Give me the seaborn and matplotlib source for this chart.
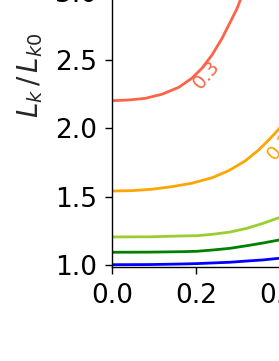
import numpy as np
import pandas as pd
import matplotlib
matplotlib.use('Agg')
import matplotlib.pyplot as plt
import seaborn as sns

# values
x_red = [0.0, 0.040, 0.079, 0.119, 0.159, 0.190, 0.214, 0.238, 0.262, 0.282, 0.298, 0.3055, 0.32]
y_red = [2.202, 2.207, 2.219, 2.249, 2.300, 2.366, 2.439, 2.536, 2.658, 2.780, 2.878, 2.939, 3.08]

x_orange = [0.0, 0.048, 0.095, 0.143, 0.190, 0.238, 0.278, 0.317, 0.349, 0.373, 0.397, 0.42]
y_orange = [1.541, 1.544, 1.554, 1.573, 1.598, 1.638, 1.690, 1.761, 1.841, 1.914, 1.993, 2.10]

x_low = [0.0, 0.09, 0.162, 0.202, 0.241, 0.281, 0.321, 0.36, 0.398, 0.42]
y_yellowgreen = [1.205, 1.206, 1.212, 1.214, 1.225, 1.241, 1.268, 1.305, 1.346, 1.375]
y_green = [1.093, 1.094, 1.097, 1.100, 1.110, 1.122, 1.141, 1.161, 1.183, 1.198]
y_blue = [1.002, 1.003, 1.007, 1.010, 1.015, 1.020, 1.029, 1.037, 1.049, 1.057]

curve_names = ['red', 'orange', 'yellowgreen', 'green', 'blue']
curve_colors = ['tomato', 'orange', 'yellowgreen', 'green', 'blue']

label_text = ['0.3', '0.2']
label_x = [0.226, 0.401]
label_y = [2.39, 1.876]
label_rot = [50, 50]

frames = [
    pd.DataFrame({'x': x_red, 'y': y_red, 'curve': 'red'}),
    pd.DataFrame({'x': x_orange, 'y': y_orange, 'curve': 'orange'}),
    pd.DataFrame({'x': x_low, 'y': y_yellowgreen, 'curve': 'yellowgreen'}),
    pd.DataFrame({'x': x_low, 'y': y_green, 'curve': 'green'}),
    pd.DataFrame({'x': x_low, 'y': y_blue, 'curve': 'blue'}),
]
df = pd.concat(frames, ignore_index=True)

sns.set_style('ticks')
plt.rcParams['font.family'] = ['DejaVu Sans']

fig = plt.figure(figsize=(2.79, 3.61), dpi=100)
# the picture is a crop: the axes run past the right and top edges
ax = fig.add_axes([112 / 279, (361 - 267.3) / 361, 420 / 279, 403.5 / 361])

sns.lineplot(data=df, x='x', y='y', hue='curve', hue_order=curve_names,
             palette=dict(zip(curve_names, curve_colors)), linewidth=2,
             legend=False, ax=ax, estimator=None, sort=False)

for t, lx, ly, r, c in zip(label_text, label_x, label_y, label_rot, curve_colors):
    ax.text(lx, ly, t, color=c, fontsize=14, rotation=r,
            ha='center', va='center', rotation_mode='anchor')

ax.set_xlim(0, 1.0)
ax.set_ylim(0.983, 3.935)
ax.set_xticks([0.0, 0.2, 0.4, 0.6, 0.8])
ax.set_yticks([1.0, 1.5, 2.0, 2.5, 3.0, 3.5])
ax.xaxis.set_major_formatter(matplotlib.ticker.FormatStrFormatter('%.1f'))
ax.yaxis.set_major_formatter(matplotlib.ticker.FormatStrFormatter('%.1f'))
ax.tick_params(labelsize=19, length=5, width=1, pad=6, colors='black')
ax.set_xlabel('')
ax.set_ylabel(r'$L_k\,/\,L_{k0}$', fontsize=20, labelpad=7)
ax.yaxis.label.set_y(0.475)
for s in ax.spines.values():
    s.set_color('black')
    s.set_linewidth(1)

fig.savefig('out.png', dpi=100)
